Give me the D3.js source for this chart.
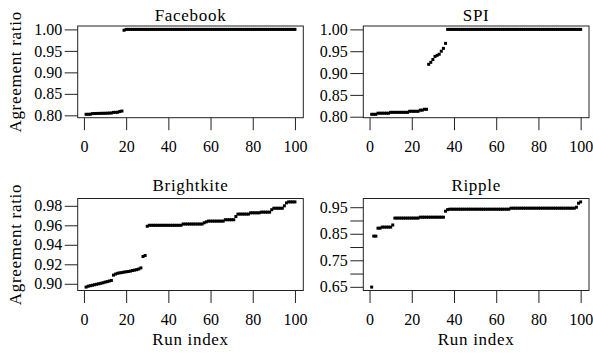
<!DOCTYPE html>
<html><head><meta charset="utf-8">
<script src="https://cdn.jsdelivr.net/npm/d3@7"></script>
<style>
body{margin:0;background:#fff}
text{font-family:"Liberation Serif","Times New Roman",serif;fill:#000}
</style>
</head><body>
<svg id="c" width="593" height="356"></svg>
<script>
// ---------- data ----------
const runIndex = d3.range(1, 101);
const titles = ["Facebook", "SPI", "Brightkite", "Ripple"];
const facebook = [
0.8024,0.8024,0.8026,0.8040,0.8042,0.8044,0.8045,0.8046,0.8047,0.8048,
0.8050,0.8052,0.8055,0.8068,0.8070,0.8072,0.8090,0.8100,0.9980,1.0000,
1,1,1,1,1,1,1,1,1,1,
1,1,1,1,1,1,1,1,1,1,
1,1,1,1,1,1,1,1,1,1,
1,1,1,1,1,1,1,1,1,1,
1,1,1,1,1,1,1,1,1,1,
1,1,1,1,1,1,1,1,1,1,
1,1,1,1,1,1,1,1,1,1,
1,1,1,1,1,1,1,1,1,1];
const spi = [
0.8055,0.8055,0.8055,0.8080,0.8080,0.8080,0.8080,0.8080,0.8080,0.8100,
0.8100,0.8100,0.8100,0.8100,0.8100,0.8100,0.8100,0.8100,0.8124,0.8124,
0.8124,0.8124,0.8124,0.8150,0.8150,0.8170,0.8170,0.9200,0.9245,0.9310,
0.9380,0.9405,0.9430,0.9500,0.9565,0.9680,1,1,1,1,
1,1,1,1,1,1,1,1,1,1,
1,1,1,1,1,1,1,1,1,1,
1,1,1,1,1,1,1,1,1,1,
1,1,1,1,1,1,1,1,1,1,
1,1,1,1,1,1,1,1,1,1,
1,1,1,1,1,1,1,1,1,1];
const brightkite = [
0.8966,0.8975,0.8980,0.8985,0.8990,0.8995,0.9000,0.9005,0.9010,0.9017,
0.9022,0.9028,0.9034,0.9089,0.9100,0.9108,0.9112,0.9115,0.9120,0.9123,
0.9126,0.9130,0.9136,0.9140,0.9145,0.9152,0.9163,0.9280,0.9290,0.9590,
0.9600,0.9600,0.9600,0.9600,0.9600,0.9600,0.9600,0.9600,0.9600,0.9600,
0.9600,0.9600,0.9600,0.9600,0.9600,0.9600,0.9613,0.9613,0.9613,0.9613,
0.9613,0.9613,0.9613,0.9613,0.9613,0.9613,0.9626,0.9635,0.9643,0.9643,
0.9643,0.9643,0.9643,0.9643,0.9643,0.9643,0.9657,0.9657,0.9657,0.9657,
0.9657,0.9690,0.9715,0.9715,0.9715,0.9715,0.9715,0.9715,0.9728,0.9728,
0.9728,0.9728,0.9728,0.9735,0.9735,0.9735,0.9735,0.9735,0.9760,0.9775,
0.9775,0.9775,0.9775,0.9775,0.9800,0.9830,0.9840,0.9840,0.9840,0.9840];
const ripple = [
0.649,0.841,0.841,0.871,0.871,0.875,0.875,0.875,0.875,0.875,
0.883,0.909,0.909,0.909,0.909,0.909,0.909,0.909,0.909,0.909,
0.909,0.909,0.909,0.9124,0.9124,0.9124,0.9124,0.9124,0.9124,0.9124,
0.9124,0.9124,0.9124,0.9124,0.9124,0.935,0.941,0.9425,0.9425,0.9425,
0.9425,0.9425,0.9425,0.9425,0.9425,0.9425,0.9425,0.9425,0.9425,0.9425,
0.9425,0.9425,0.9425,0.9425,0.9425,0.9425,0.9425,0.9425,0.9425,0.9425,
0.9425,0.9425,0.9425,0.9425,0.9425,0.9425,0.9463,0.9463,0.9463,0.9463,
0.9463,0.9463,0.9463,0.9463,0.9463,0.9463,0.9463,0.9463,0.9463,0.9463,
0.9463,0.9463,0.9463,0.9463,0.9463,0.9463,0.9463,0.9463,0.9463,0.9463,
0.9463,0.9463,0.9463,0.9463,0.9463,0.9463,0.9463,0.950,0.965,0.970];
const seriesValues = [facebook, spi, brightkite, ripple];
const xTicks = [0, 20, 40, 60, 80, 100];
const yTicksFacebook = [0.80, 0.85, 0.90, 0.95, 1.00];
const yTicksSPI = [0.80, 0.85, 0.90, 0.95, 1.00];
const yTicksBrightkite = [0.90, 0.92, 0.94, 0.96, 0.98];
const yTicksRipple = [0.65, 0.70, 0.75, 0.80, 0.85, 0.90, 0.95];
const yTickLabelsRipple = ["0.65", "", "0.75", "", "0.85", "", "0.95"];
const yTickSets = [yTicksFacebook, yTicksSPI, yTicksBrightkite, yTicksRipple];
const yLabelSets = [null, null, null, yTickLabelsRipple];
const yAxisTitle = "Agreement ratio";
const xAxisTitle = "Run index";

// ---------- layout ----------
const cols = [{l: 77.7, r: 303.3}, {l: 363.3, r: 589}];
const rows = [{t: 26, b: 117.7, title: 20.7}, {t: 198.5, b: 290.5, title: 191}];
const svg = d3.select("#c");
const lineCol = "#222";

function pad(ext) { const r = ext[1] - ext[0]; return [ext[0] - 0.04 * r, ext[1] + 0.04 * r]; }

seriesValues.forEach((vals, k) => {
  const c = cols[k % 2], rw = rows[Math.floor(k / 2)];
  const x = d3.scaleLinear().domain(pad(d3.extent(runIndex))).range([c.l, c.r]);
  const y = d3.scaleLinear().domain(pad(d3.extent(vals))).range([rw.b, rw.t]);
  const g = svg.append("g");

  // points
  g.selectAll("rect.pt").data(vals).join("rect").attr("class", "pt")
    .attr("x", (d, i) => x(runIndex[i]) - 1.5)
    .attr("y", d => y(d) - 1.5)
    .attr("width", 3).attr("height", 3).attr("fill", "#000");

  // box
  g.append("rect").attr("x", c.l).attr("y", rw.t).attr("width", c.r - c.l).attr("height", rw.b - rw.t)
    .attr("fill", "none").attr("stroke", lineCol).attr("stroke-width", 1);

  // y axis
  const labs = yLabelSets[k];
  const yTicks = yTickSets[k];
  const ya = d3.axisLeft(y).tickValues(yTicks).tickSize(13).tickPadding(2.5)
    .tickFormat((d, i) => labs ? labs[i] : d3.format(".2f")(d));
  const yg = g.append("g").attr("transform", `translate(${c.l},0)`).call(ya);
  yg.select(".domain").remove();
  yg.selectAll("line").attr("stroke", lineCol);
  yg.selectAll("text").attr("font-size", 16).attr("font-family", "Liberation Serif").attr("fill", "#000");

  // x axis
  const xa = d3.axisBottom(x).tickValues(xTicks).tickSize(12.5).tickFormat(d3.format("d"));
  const xg = g.append("g").attr("transform", `translate(0,${rw.b})`).call(xa);
  xg.select(".domain").remove();
  xg.selectAll("line").attr("stroke", lineCol);
  xg.selectAll("text").attr("font-size", 16).attr("font-family", "Liberation Serif").attr("fill", "#000")
    .attr("dy", null).attr("y", 34.8);

  // title
  g.append("text").attr("x", (c.l + c.r) / 2).attr("y", rw.title).attr("text-anchor", "middle")
    .attr("font-size", 17).attr("letter-spacing", 0.7).text(titles[k]);

  if (k % 2 === 0) {
    g.append("text").attr("transform", `translate(21,${(rw.t + rw.b) / 2}) rotate(-90)`)
      .attr("text-anchor", "middle").attr("font-size", 17).attr("letter-spacing", 0.7).text(yAxisTitle);
  }
  if (k >= 2) {
    g.append("text").attr("x", (c.l + c.r) / 2).attr("y", 345).attr("text-anchor", "middle")
      .attr("font-size", 17).attr("letter-spacing", 0.7).text(xAxisTitle);
  }
});
</script>
</body></html>
